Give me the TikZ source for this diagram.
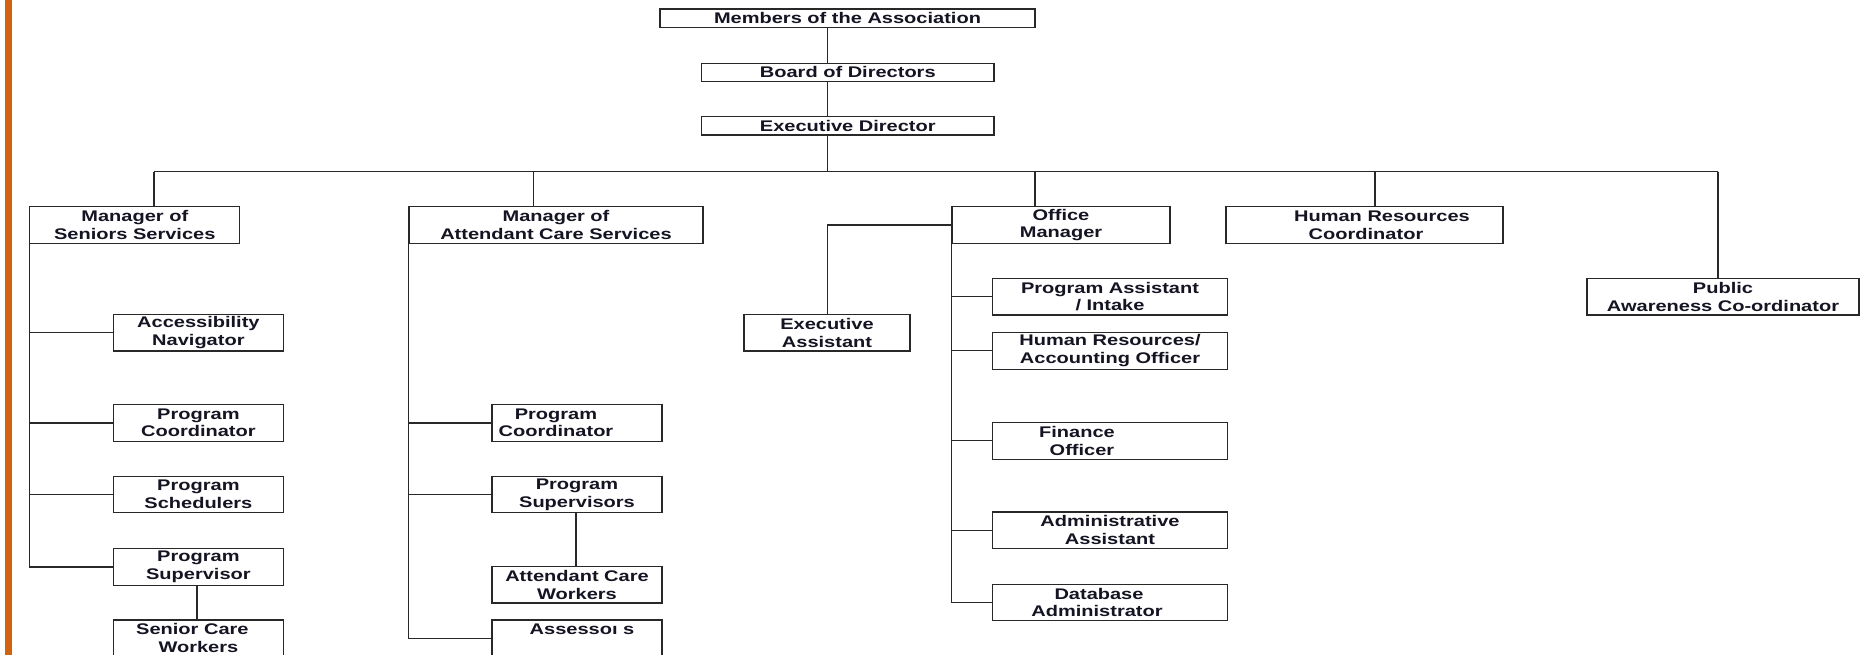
\documentclass[tikz,border=0pt]{standalone}
\usepackage{fontspec}
\setmainfont{Liberation Sans}[FakeStretch=1.3]
\definecolor{barorange}{RGB}{208,98,16}
\definecolor{inkline}{RGB}{40,40,40}
\definecolor{inktext}{RGB}{20,20,35}
\begin{document}
\begin{tikzpicture}[x=1pt,y=-1pt,
  box/.style={draw=inkline,line width=1.2pt,rectangle,inner sep=0pt,align=center,
    text=inktext,font=\fontsize{15.4}{17.7}\selectfont\bfseries},
  link/.style={draw=inkline,line width=1.2pt}]
\useasboundingbox (0,0) rectangle (1866,655);
\fill[white] (0,0) rectangle (1866,655);
\fill[barorange] (5,-2) rectangle (12,660);
% top chain
\node[box,minimum width=375pt,minimum height=18.5pt] (members) at (847.5,18.2) {Members of the Association};
\node[box,minimum width=292.5pt,minimum height=18pt] (board) at (847.8,72.3) {Board of Directors};
\node[box,minimum width=292.5pt,minimum height=18.3pt] (ed) at (847.8,125.8) {Executive Director};
% managers
\node[box,minimum width=210pt,minimum height=36.6pt] (seniors) at (134.8,225) {Manager of\\Seniors Services};
\node[box,minimum width=294pt,minimum height=36.6pt] (attend) at (556,225) {Manager of\\Attendant Care Services};
\node[box,minimum width=218pt,minimum height=36.6pt] (office) at (1061,225) {Office\\Manager};
\node[box,minimum width=277pt,minimum height=36.6pt] (hrc) at (1364.5,225) {\hspace*{35pt}Human Resources\\\hspace*{3pt}Coordinator};
\node[box,minimum width=272pt,minimum height=36.7pt] (public) at (1723,296.7) {Public\\Awareness Co-ordinator};
% seniors children
\node[box,minimum width=170pt,minimum height=36.6pt] (acc) at (198.4,332.7) {Accessibility\\Navigator};
\node[box,minimum width=170pt,minimum height=36.6pt] (spc) at (198.4,422.9) {Program\\Coordinator};
\node[box,minimum width=170pt,minimum height=36.6pt] (sched) at (198.4,494.5) {Program\\Schedulers};
\node[box,minimum width=170pt,minimum height=36.6pt] (psup) at (198.4,566.9) {Program\\Supervisor};
\node[box,minimum width=170pt,minimum height=36.6pt] (scw) at (198.4,638.3) {\hspace*{-12pt}Senior Care\\Workers};
% attendant children
\node[box,minimum width=170pt,minimum height=36.6pt] (apc) at (577,422.9) {\hspace*{-42pt}Program\\\hspace*{-42pt}Coordinator};
\node[box,minimum width=170pt,minimum height=36.6pt] (apsup) at (577,494.5) {Program\\Supervisors};
\node[box,minimum width=170pt,minimum height=36.6pt] (acw) at (577,584.7) {Attendant Care\\Workers};
\node[box,minimum width=170pt,minimum height=36.6pt] (assess) at (577,638.3) {\hspace*{10pt}Assessoı s\\\mbox{}};
% office side
\node[box,minimum width=166pt,minimum height=36.6pt] (ea) at (827,332.7) {Executive\\Assistant};
\node[box,minimum width=235.3pt,minimum height=36.6pt] (pai) at (1110,296.7) {Program Assistant\\/ Intake};
\node[box,minimum width=235.3pt,minimum height=36.6pt] (hra) at (1110,350.8) {Human Resources/\\Accounting Officer};
\node[box,minimum width=235.3pt,minimum height=36.6pt] (fin) at (1110,440.8) {\hspace*{-66pt}Finance\\\hspace*{-56pt}Officer};
\node[box,minimum width=235.3pt,minimum height=36.6pt] (aa) at (1110,530.3) {Administrative\\Assistant};
\node[box,minimum width=235.3pt,minimum height=36.6pt] (dba) at (1110,602.5) {\hspace*{-22pt}Database\\\hspace*{-26pt}Administrator};
% helper coordinates
\coordinate (trunk) at (827.4,171.7);
\coordinate (d1) at (154,171.7);
\coordinate (d2) at (533.5,171.7);
\coordinate (d3) at (1035,171.7);
\coordinate (d4) at (1375,171.7);
\coordinate (d5) at (1718,171.7);
\coordinate (eadrop) at (827.4,225);
\coordinate (pslink) at (197,0);
\coordinate (awlink) at (576,0);
% connectors
\draw[link] (members.south -| trunk) -- (board.north -| trunk);
\draw[link] (board.south -| trunk) -- (ed.north -| trunk);
\draw[link] (ed.south -| trunk) -- (trunk);
\draw[link] (d1) -- (d5);
\draw[link] (d1) -- (seniors.north -| d1);
\draw[link] (d2) -- (attend.north -| d2);
\draw[link] (d3) -- (office.north -| d3);
\draw[link] (d4) -- (hrc.north -| d4);
\draw[link] (d5) -- (public.north -| d5);
% seniors subtree
\draw[link] (seniors.south west) -- (seniors.south west |- psup.west) -- (psup.west);
\draw[link] (seniors.south west |- acc.west) -- (acc.west);
\draw[link] (seniors.south west |- spc.west) -- (spc.west);
\draw[link] (seniors.south west |- sched.west) -- (sched.west);
\draw[link] (psup.south -| pslink) -- (scw.north -| pslink);
% attendant subtree
\draw[link] (attend.south west) -- (attend.south west |- assess.west) -- (assess.west);
\draw[link] (attend.south west |- apc.west) -- (apc.west);
\draw[link] (attend.south west |- apsup.west) -- (apsup.west);
\draw[link] (apsup.south -| awlink) -- (acw.north -| awlink);
% office subtree
\draw[link] (office.west) -- (eadrop) -- (ea.north -| eadrop);
\draw[link] (office.south west) -- (office.south west |- dba.west) -- (dba.west);
\draw[link] (office.south west |- pai.west) -- (pai.west);
\draw[link] (office.south west |- hra.west) -- (hra.west);
\draw[link] (office.south west |- fin.west) -- (fin.west);
\draw[link] (office.south west |- aa.west) -- (aa.west);
\end{tikzpicture}
\end{document}
